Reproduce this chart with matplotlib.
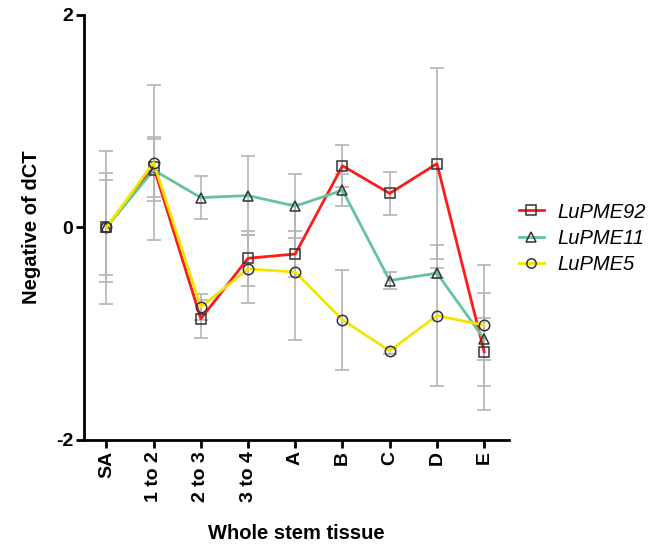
import numpy as np
import matplotlib.pyplot as plt

plt.rcParams['font.family'] = ['Liberation Sans', 'DejaVu Sans']
plt.rcParams['axes.unicode_minus'] = False

tissues = ['SA', '1 to 2', '2 to 3', '3 to 4', 'A', 'B', 'C', 'D', 'E']

pme92 = [0.0, 0.57, -0.86, -0.29, -0.25, 0.58, 0.32, 0.60, -1.17]
pme92_err = [0.51, 0.28, 0.18, 0.26, 0.22, 0.20, 0.20, 0.90, 0.55]

pme11 = [0.0, 0.54, 0.28, 0.30, 0.20, 0.35, -0.50, -0.43, -1.05]
pme11_err = [0.45, 0.29, 0.20, 0.37, 0.30, 0.15, 0.08, 0.05, 0.20]

pme5 = [0.0, 0.61, -0.75, -0.39, -0.42, -0.87, -1.16, -0.83, -0.92]
pme5_err = [0.72, 0.73, 0.12, 0.32, 0.64, 0.47, 0.03, 0.66, 0.57]

series = [
    ('LuPME92', pme92, pme92_err, '#ff1a1a', 's'),
    ('LuPME11', pme11, pme11_err, '#66c49b', '^'),
    ('LuPME5', pme5, pme5_err, '#f2e600', 'o'),
]

fig = plt.figure(figsize=(6.63, 5.5), dpi=100)
ax = fig.add_axes([0.127, 0.2, 0.641, 0.773])
x = np.arange(len(tissues))

for name, vals, err, col, mk in series:
    ax.errorbar(x, vals, yerr=err, fmt='none', ecolor='#b4b4b4',
                elinewidth=1.2, capsize=5, capthick=1.2, zorder=1)
for name, vals, err, col, mk in series:
    ax.plot(x, vals, color=col, lw=2, marker=mk, ms=7.5,
            mfc='none', mec='#333333', mew=1.1, label=name, zorder=3)

ax.set_xlim(-0.47, 8.53)
ax.set_ylim(-2, 2)
ax.set_yticks([-2, 0, 2])
ax.set_xticks(x)
ax.set_xticklabels(tissues, rotation=90, fontsize=14, fontweight='bold')
for lbl in ax.get_yticklabels():
    lbl.set_fontsize(14)
    lbl.set_fontweight('bold')
for s in ['top', 'right']:
    ax.spines[s].set_visible(False)
ax.spines['left'].set_linewidth(2)
ax.spines['bottom'].set_linewidth(2)
ax.tick_params(direction='out', width=2, length=6, pad=2)
ax.set_ylabel('Negative of dCT', fontsize=14.5, fontweight='bold', labelpad=11)
ax.set_xlabel('Whole stem tissue', fontsize=14.5, fontweight='bold', labelpad=16)

leg = ax.legend(loc='center left', bbox_to_anchor=(1.005, 0.475), frameon=False,
                prop={'style': 'italic', 'size': 14.5}, handlelength=1.2,
                handletextpad=0.7, labelspacing=0.35, borderaxespad=0,
                markerscale=0.9)

fig.savefig('out.png', dpi=100)
